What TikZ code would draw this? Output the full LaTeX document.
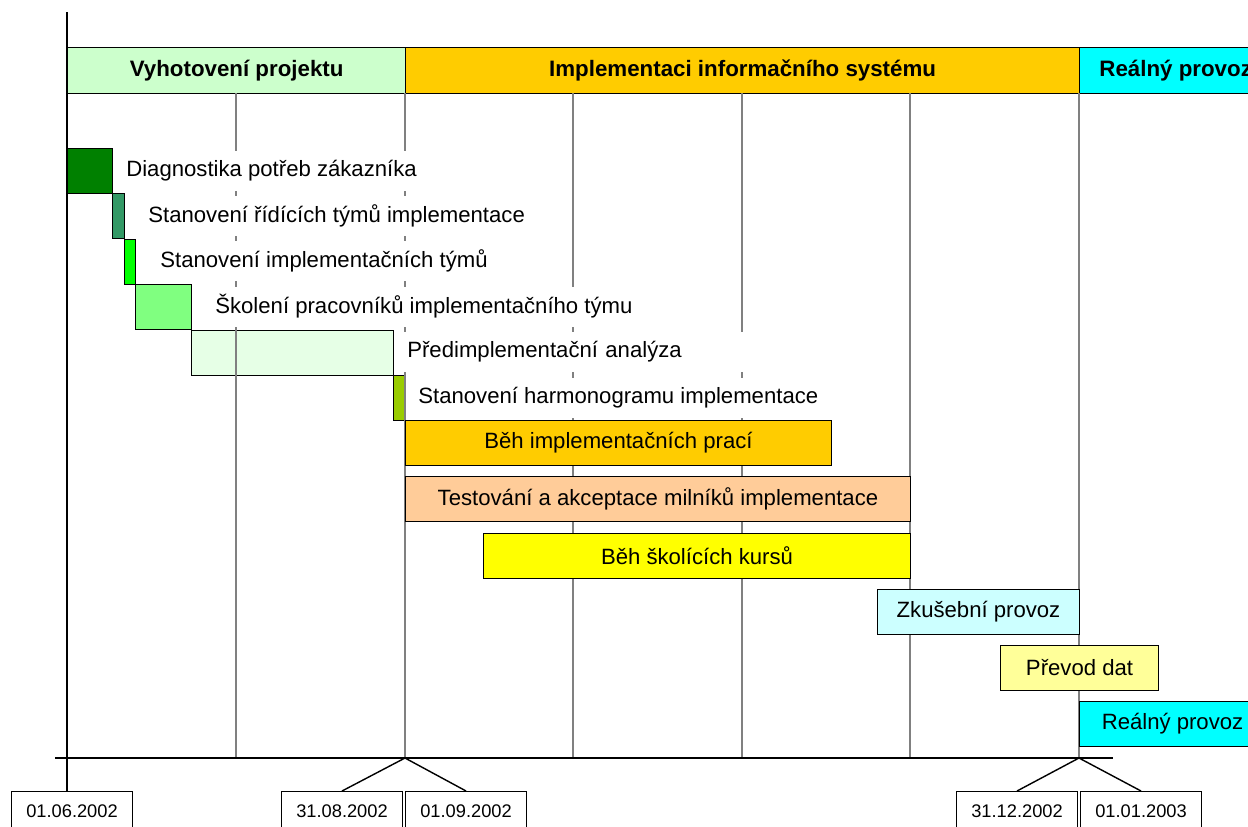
\documentclass[tikz,border=0pt]{standalone}
\usepackage{fontspec}
\setmainfont{Liberation Sans}
\usetikzlibrary{positioning}

\definecolor{phaseA}{HTML}{CCFFCC}
\definecolor{phaseB}{HTML}{FFCC00}
\definecolor{phaseC}{HTML}{00FFFF}
\definecolor{taskA}{HTML}{008000}
\definecolor{taskB}{HTML}{339966}
\definecolor{taskC}{HTML}{00FF00}
\definecolor{taskD}{HTML}{80FF80}
\definecolor{taskE}{HTML}{E6FFE6}
\definecolor{taskF}{HTML}{99CC00}
\definecolor{taskG}{HTML}{FFCC99}
\definecolor{taskH}{HTML}{FFFF00}
\definecolor{taskI}{HTML}{CCFFFF}
\definecolor{taskJ}{HTML}{FFFF99}
\definecolor{gridgray}{HTML}{808080}

\begin{document}
\begin{tikzpicture}[x=0.02cm,y=-0.02cm,
  hdr/.style={draw,line width=0.8pt,anchor=north west,minimum height=0.92cm,inner sep=0pt,font=\fontsize{12.7}{15}\selectfont\bfseries},
  bar/.style={draw,line width=0.6pt,anchor=north west,minimum height=0.9cm,inner sep=0pt,font=\fontsize{12.6}{15}\selectfont},
  lbl/.style={fill=white,anchor=west,minimum height=0.8cm,inner xsep=0.06cm,inner ysep=0pt,font=\fontsize{12.6}{15}\selectfont},
  datebox/.style={draw,line width=0.6pt,anchor=north west,minimum width=2.42cm,minimum height=0.8cm,inner sep=0pt,font=\fontsize{10.4}{12}\selectfont},
  gridline/.style={draw=gridgray,line width=0.8pt},
  axisline/.style={draw=black,line width=1pt}]
  \useasboundingbox (0,0) rectangle (1248,826);
  \clip (0,0) rectangle (1248,826);

  % phases
  \node[hdr,fill=phaseA,minimum width=6.76cm] (ph1) at (67,47) {Vyhotovení projektu};
  \node[hdr,fill=phaseB,minimum width=13.48cm] (ph2) at (405,47) {Implementaci informačního systému};
  \node[hdr,fill=phaseC,minimum width=3.84cm] (ph3) at (1079,47) {Reálný provoz};

  % preparation tasks (grid shows over them)
  \node[bar,fill=taskA,minimum width=0.9cm] (t1) at (67,148) {};
  \node[bar,fill=taskB,minimum width=0.24cm] (t2) at (112,193) {};
  \node[bar,fill=taskC,minimum width=0.22cm] (t3) at (124,238.5) {};
  \node[bar,fill=taskD,minimum width=1.12cm] (t4) at (135,284) {};
  \node[bar,fill=taskE,minimum width=4.04cm] (t5) at (191,329.5) {};
  \node[bar,fill=taskF,minimum width=0.24cm] (t6) at (393,375) {};

  % month grid
  \foreach \x in {236,405,573,742,910,1079}
    \draw[gridline] (\x,93) -- (\x,758);

  \node[lbl] (l1) at (123,170.5) {Diagnostika potřeb zákazníka};
  \node[lbl] (l2) at (145,215.5) {Stanovení řídících týmů implementace};
  \node[lbl] (l3) at (157,261) {Stanovení implementačních týmů};
  \node[lbl] (l4) at (212,306.5) {Školení pracovníků implementačního týmu};
  \node[lbl,text width=6.8cm,align=left] (l5) at (404,352) {Předimplementační analýza};
  \node[lbl] (l6) at (415,397.5) {Stanovení harmonogramu implementace};

  % implementation and operation
  \node[bar,fill=phaseB,minimum width=8.52cm] (t7) at (405,420) {Běh implementačních prací};
  \node[bar,fill=taskG,minimum width=10.1cm] (t8) at (405,476) {Testování a akceptace milníků implementace};
  \node[bar,fill=taskH,minimum width=8.54cm] (t9) at (483,533) {Běh školících kursů};
  \node[bar,fill=taskI,minimum width=4.04cm] (t10) at (877,589) {Zkušební provoz};
  \node[bar,fill=taskJ,minimum width=3.16cm] (t11) at (1000,645) {Převod dat};
  \node[bar,fill=phaseC,minimum width=3.72cm] (t12) at (1079,701) {Reálný provoz};

  % time axis and dates
  \node[datebox] (d0106) at (11,791) {01.06.2002};
  \node[datebox] (d3108) at (281,791) {31.08.2002};
  \node[datebox,right=0.04cm of d3108] (d0109) {01.09.2002};
  \node[datebox] (d3112) at (956,791) {31.12.2002};
  \node[datebox,right=0.04cm of d3112] (d0101) {01.01.2003};

  \coordinate (top) at (67,12);
  \coordinate (m1) at (405,758);
  \coordinate (m2) at (1079,758);
  \draw[axisline] (55,758) -- (1113,758);
  \draw[axisline] (top) -- (top |- d0106.north);
  \draw[line width=0.8pt] (m1) -- (d3108.north); \draw[line width=0.8pt] (m1) -- (d0109.north);
  \draw[line width=0.8pt] (m2) -- (d3112.north); \draw[line width=0.8pt] (m2) -- (d0101.north);
\end{tikzpicture}
\end{document}
